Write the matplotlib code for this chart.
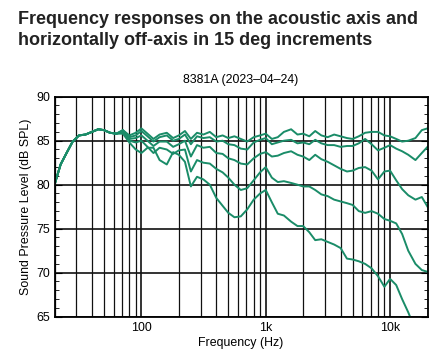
import matplotlib
matplotlib.use('Agg')
import matplotlib.pyplot as plt
from matplotlib.ticker import FixedLocator, LogLocator, NullFormatter, MultipleLocator

plt.rcParams['font.family'] = ['Liberation Sans', 'DejaVu Sans']

# 频率点 (Hz)
freqs = [20, 22.4, 25, 28, 31.5, 35.5, 40, 45, 50, 56, 63, 71, 80, 90, 100, 112, 125, 140, 160, 180,
         200, 224, 250, 280, 315, 355, 400, 450, 500, 560, 630, 710, 800, 900, 1000, 1120, 1250, 1400,
         1600, 1800, 2000, 2240, 2500, 2800, 3150, 3550, 4000, 4500, 5000, 5600, 6300, 7100, 8000,
         9000, 10000, 11200, 12500, 14000, 16000, 18000, 20000]

# 低频段各角度共用
low_part = [80.0, 82.3, 83.6, 84.9, 85.6, 85.7, 86.0, 86.3, 86.2, 85.9, 85.8]

spl_0 = low_part + [86.2, 85.6, 85.9, 86.4, 85.8, 85.2, 85.7, 85.9, 85.3,
                    85.6, 86.1, 85.2, 85.9, 85.7, 86.0, 85.4, 85.6, 85.3, 85.5, 85.2, 84.9, 85.4, 85.6,
                    85.8, 85.2, 85.4, 86.0, 86.3, 85.7, 85.8, 85.5, 86.1, 85.6, 85.4, 85.7, 85.5, 85.3,
                    85.2, 85.5, 85.9, 86.0, 86.0, 85.6, 85.5, 85.2, 84.9, 85.0, 85.3, 86.2, 86.4]
spl_15 = low_part + [86.2, 85.4, 85.6, 86.1, 85.5, 84.9, 85.4, 85.6, 85.0,
                     85.2, 85.7, 84.6, 85.5, 85.3, 85.4, 84.9, 85.0, 84.6, 84.5, 84.1, 84.0, 84.8, 85.1,
                     85.3, 84.6, 84.8, 85.0, 85.1, 84.7, 84.8, 84.6, 85.1, 84.7, 84.5, 84.5, 84.3, 84.4,
                     84.4, 84.7, 85.2, 84.6, 83.9, 84.2, 84.5, 84.1, 83.8, 83.4, 82.8, 83.6, 84.3]
spl_30 = low_part + [86.0, 85.2, 85.3, 85.6, 85.0, 84.4, 84.9, 84.9, 84.3,
                     84.6, 85.0, 83.2, 84.5, 84.2, 84.3, 83.6, 83.5, 83.0, 82.8, 82.4, 82.3, 83.0, 83.5,
                     83.7, 83.2, 83.3, 83.6, 83.8, 83.4, 83.2, 82.8, 83.4, 82.9, 82.6, 82.2, 81.8, 81.5,
                     81.6, 81.9, 82.0, 81.6, 80.6, 81.5, 81.6, 80.5, 79.5, 78.8, 78.3, 78.6, 77.5]
spl_45 = low_part + [86.0, 85.0, 84.8, 85.0, 84.3, 83.6, 84.2, 84.0, 83.5,
                     83.9, 84.0, 81.5, 82.8, 82.5, 82.4, 81.8, 81.4, 80.8, 80.0, 79.4, 79.6, 80.5, 81.4,
                     82.0, 80.8, 80.3, 80.4, 80.2, 80.0, 79.8, 79.8, 79.4, 78.9, 78.7, 78.3, 78.1, 77.9,
                     77.7, 77.0, 76.8, 77.0, 76.7, 76.1, 75.9, 75.6, 74.4, 72.5, 71.0, 70.3, 70.1]
spl_60 = low_part + [85.8, 84.8, 84.0, 83.6, 84.2, 84.2, 82.8, 82.3, 83.7,
                     83.4, 82.6, 79.8, 80.9, 80.6, 80.0, 78.5, 77.6, 76.8, 76.3, 76.4, 77.2, 78.3, 79.0,
                     79.4, 78.0, 76.7, 76.5, 75.8, 75.3, 75.3, 74.6, 73.7, 73.8, 73.5, 73.2, 72.8, 71.6,
                     71.5, 71.3, 71.0, 70.5, 69.6, 68.4, 69.3, 68.6, 67.0, 65.5, 63.5, 62.5, 61.5]

curves = [spl_0, spl_15, spl_30, spl_45, spl_60]

title = 'Frequency responses on the acoustic axis and\nhorizontally off-axis in 15 deg increments'
subtitle = '8381A (2023\u201304\u201324)'

fig = plt.figure(figsize=(4.43, 3.56), dpi=100)
ax = fig.add_axes([54.5 / 443, 1 - 316.7 / 356, (427.5 - 54.5) / 443, (316.7 - 96.7) / 356])

fig.text(18 / 443, 1 - 11 / 356, title, fontsize=13.0, fontweight='bold', color='#222222',
         va='top', ha='left', linespacing=1.33)
ax.set_title(subtitle, fontsize=8.9, pad=10)

for spl in curves:
    ax.plot(freqs, spl, color='#1a8c68', lw=1.4, solid_joinstyle='round')

ax.set_xscale('log')
ax.set_xlim(20, 20000)
ax.set_ylim(65, 90)

ax.xaxis.set_major_locator(FixedLocator([100, 1000, 10000]))
ax.set_xticklabels(['100', '1k', '10k'])
ax.xaxis.set_minor_locator(LogLocator(base=10, subs=range(2, 10), numticks=20))
ax.xaxis.set_minor_formatter(NullFormatter())
ax.yaxis.set_major_locator(MultipleLocator(5))
ax.yaxis.set_minor_locator(MultipleLocator(1))

ax.grid(True, which='major', axis='both', color='#111111', lw=1.2)
ax.grid(True, which='minor', axis='x', color='#111111', lw=0.9)
ax.set_axisbelow(True)

ax.tick_params(axis='x', which='both', length=0, labelsize=8.9, pad=4)
ax.tick_params(axis='y', which='major', direction='in', length=5, right=True, labelsize=8.9, pad=3)
ax.tick_params(axis='y', which='minor', direction='in', length=3, right=True)

for sp in ax.spines.values():
    sp.set_linewidth(1.3)

ax.set_xlabel('Frequency (Hz)', fontsize=8.9, labelpad=2)
ax.set_ylabel('Sound Pressure Level (dB SPL)', fontsize=8.9, labelpad=3)

plt.savefig('out.png', dpi=100)
